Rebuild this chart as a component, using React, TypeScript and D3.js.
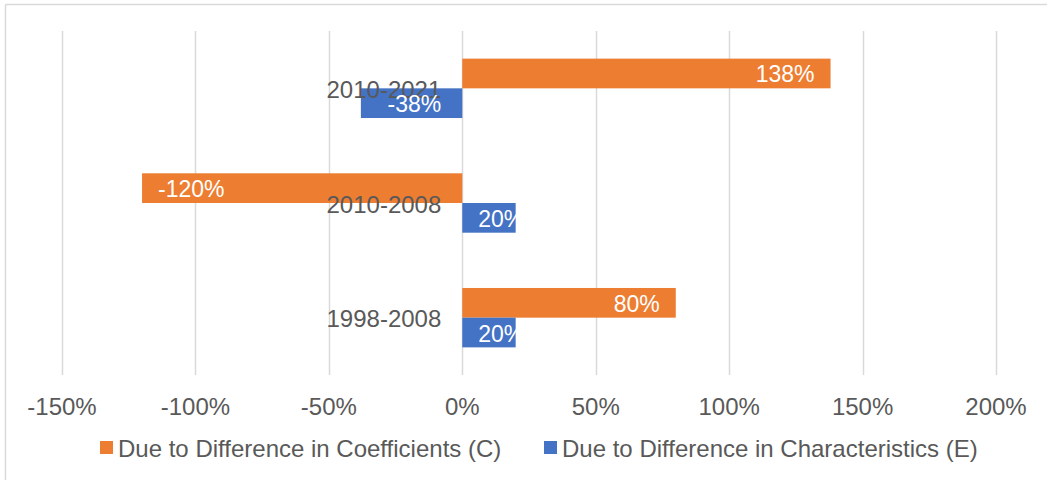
import React from "react";
import * as d3 from "d3";

// Decomposition periods, top to bottom
const periods = ["2010-2021", "2010-2008", "1998-2008"];
const seriesNames = [
  "Due to Difference in Coefficients (C)",
  "Due to Difference in Characteristics (E)",
];
const coefficients = [138, -120, 80];
const characteristics = [-38, 20, 20];
const xTicks = [-150, -100, -50, 0, 50, 100, 150, 200];
const seriesColors = ["#ED7D31", "#4472C4"];

const W = 1047;
const H = 480;
const FONT = "'Liberation Sans', Arial, sans-serif";
const FS = 24;
const FS_LABEL = 23;

export default function App() {
  const x = d3.scaleLinear().domain([-150, 200]).range([62, 996]);
  const y = d3
    .scaleBand<string>()
    .domain(periods)
    .range([31, 375])
    .paddingInner(0.482)
    .paddingOuter(0.241);
  const ySeries = d3
    .scaleBand<number>()
    .domain([0, 1])
    .range([0, y.bandwidth()]);

  const values = [coefficients, characteristics];
  const pad = 16;
  const textW = (s: string) =>
    s.split("").reduce((a, c) => a + (c === "%" ? 0.889 : c === "-" ? 0.333 : 0.556), 0) * FS_LABEL;

  return (
    <svg
      width={W}
      height={H}
      style={{ position: "absolute", left: 0, top: 0, background: "#fff" }}
      fontFamily={FONT}
    >
      {/* chart area outline */}
      <line x1={5.5} x2={5.5} y1={4.5} y2={H} stroke="#d9d9d9" strokeWidth={1.5} />
      <line x1={5.5} x2={W} y1={4.5} y2={4.5} stroke="#d9d9d9" strokeWidth={1.5} />

      {/* vertical gridlines */}
      {xTicks.map((t) => (
        <line
          key={t}
          x1={Math.round(x(t)) + 0.5}
          x2={Math.round(x(t)) + 0.5}
          y1={31}
          y2={375}
          stroke="#d9d9d9"
          strokeWidth={1.5}
        />
      ))}

      {/* bars */}
      {values.map((vals, si) =>
        vals.map((v, i) => {
          const y0 = (y(periods[i]) ?? 0) + (ySeries(si) ?? 0);
          const x0 = Math.min(x(0), x(v));
          const w = Math.abs(x(v) - x(0));
          return (
            <rect
              key={`${si}-${i}`}
              x={x0}
              y={y0}
              width={w}
              height={ySeries.bandwidth()}
              fill={seriesColors[si]}
            />
          );
        })
      )}

      {/* category labels */}
      {periods.map((p) => (
        <text
          key={p}
          x={x(0) - 21}
          y={(y(p) ?? 0) + y.bandwidth() / 2 + 1}
          textAnchor="end"
          dominantBaseline="central"
          fontSize={FS}
          fill="#595959"
        >
          {p}
        </text>
      ))}

      {/* value labels, inside end */}
      {values.map((vals, si) =>
        vals.map((v, i) => {
          const label = `${v}%`;
          const lw = textW(label);
          const barLen = Math.abs(x(v) - x(0));
          let start: number;
          if (v >= 0) {
            start = Math.max(x(v) - pad - lw, x(0) + pad);
          } else if (barLen < 2 * lw) {
            start = x(0) - 21 - lw;
          } else {
            start = x(v) + pad;
          }
          const cy = (y(periods[i]) ?? 0) + (ySeries(si) ?? 0) + ySeries.bandwidth() / 2 + 1;
          return (
            <text
              key={`l-${si}-${i}`}
              x={start}
              y={cy}
              dominantBaseline="central"
              fontSize={FS_LABEL}
              fill="#ffffff"
            >
              {label}
            </text>
          );
        })
      )}

      {/* x-axis tick labels */}
      {xTicks.map((t) => (
        <text
          key={`t${t}`}
          x={x(t)}
          y={406}
          textAnchor="middle"
          dominantBaseline="central"
          fontSize={FS}
          fill="#595959"
        >
          {`${t}%`}
        </text>
      ))}

      {/* legend */}
      {seriesNames.map((name, si) => {
        const lx = [100, 544][si];
        return (
          <g key={name}>
            <rect x={lx} y={441} width={13} height={13} fill={seriesColors[si]} />
            <text
              x={lx + 18}
              y={448}
              dominantBaseline="central"
              fontSize={FS}
              fill="#595959"
            >
              {name}
            </text>
          </g>
        );
      })}
    </svg>
  );
}
